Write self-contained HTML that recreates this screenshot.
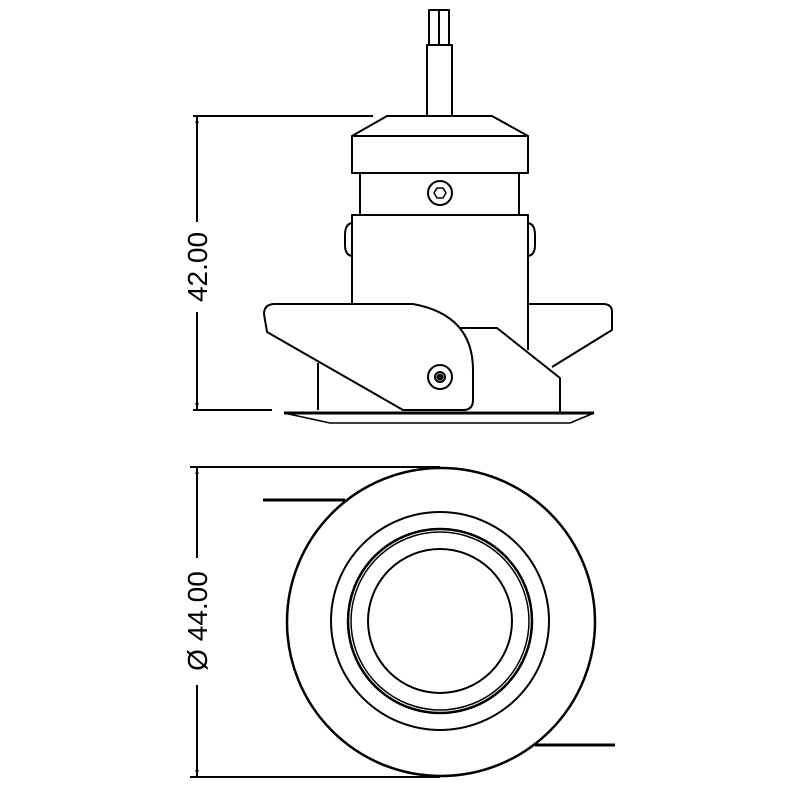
<!DOCTYPE html>
<html><head><style>html,body{margin:0;padding:0;background:#fff}svg{display:block}</style></head>
<body>
<svg width="800" height="800" viewBox="0 0 800 800" xmlns="http://www.w3.org/2000/svg">
<defs>
<marker id="ar" viewBox="0 0 10 10" refX="10" refY="5" markerWidth="6" markerHeight="14" orient="auto-start-reverse" markerUnits="userSpaceOnUse"><path d="M0,2 L10,5 L0,8 z" fill="#000"/></marker>
</defs>
<g fill="none" stroke="#000" stroke-width="2" stroke-linejoin="round">
<!-- dimension 42 -->
<line x1="193" y1="116" x2="373" y2="116"/>
<line x1="193" y1="410" x2="272" y2="410"/>
<line x1="197" y1="222" x2="197" y2="117" marker-end="url(#ar)"/>
<line x1="197" y1="312" x2="197" y2="409" marker-end="url(#ar)"/>
<!-- cable -->
<rect x="429" y="10" width="20" height="35"/>
<line x1="439" y1="10" x2="439" y2="45"/>
<rect x="427" y="45" width="25" height="71"/>
<!-- cap -->
<path d="M387,116 L492,116 L528,136 L352,136 Z"/>
<rect x="352" y="136" width="176" height="37"/>
<rect x="360" y="173" width="159" height="42"/>
<circle cx="440" cy="193" r="12"/>
<path d="M434,193 L437,188 L443,188 L446,193 L443,198 L437,198 Z" stroke-width="1.5"/>
<!-- body -->
<path d="M352,305 L352,215 L528,215 L528,350"/>
<path d="M352,223 Q345,224 345,235 L345,245 Q345,255 352,256"/>
<path d="M528,223 Q535,224 535,235 L535,245 Q535,255 528,256"/>
<!-- right wing -->
<path d="M528,304 L603,304 Q612,304 612,312 L612,330 L552,367"/>
<!-- bracket -->
<path d="M460,328 L497,328 L560,378 L560,412"/>
<line x1="318" y1="363" x2="318" y2="410"/>
<!-- left wing -->
<path d="M275,304 L413,304 Q473,315 473,370 L473,400 Q473,410 463,410 L403,410 L267,332 L264,314 Q264,304 275,304 Z" fill="#fff"/>
<circle cx="440" cy="377" r="12"/>
<circle cx="440" cy="377" r="5"/>
<circle cx="440" cy="377" r="2.5" fill="#000"/>
<!-- flange -->
<line x1="284" y1="413" x2="594" y2="413" stroke-width="3"/>
<path d="M284,413 L330,423 L570,423 L594,413" stroke-width="1.5"/>
<!-- dimension 44 -->
<line x1="190" y1="467" x2="440" y2="467"/>
<line x1="190" y1="777" x2="440" y2="777"/>
<line x1="197" y1="558" x2="197" y2="468" marker-end="url(#ar)"/>
<line x1="197" y1="685" x2="197" y2="776" marker-end="url(#ar)"/>
<line x1="263" y1="500" x2="345" y2="500" stroke-width="3"/>
<line x1="535" y1="745" x2="615" y2="745" stroke-width="3"/>
<circle cx="441" cy="622" r="154" stroke-width="2.5"/>
<circle cx="440" cy="621" r="109"/>
<circle cx="440" cy="621" r="92" stroke-width="2.5"/>
<circle cx="440" cy="621" r="89" stroke-width="1.5"/>
<circle cx="440" cy="621" r="72" stroke-width="2"/>
</g>
<g font-family="Liberation Sans, sans-serif" font-size="28" fill="#000" text-anchor="middle">
<text transform="translate(207,267) rotate(-90)">42.00</text>
<text transform="translate(207,621) rotate(-90)">Ø 44.00</text>
</g>
</svg>
</body></html>
